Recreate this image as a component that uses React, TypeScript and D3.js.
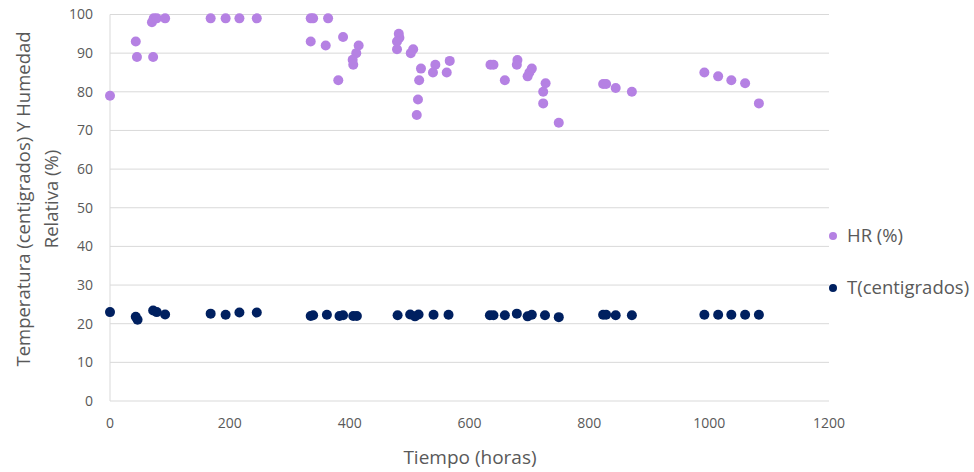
import React from "react";
import * as d3 from "d3";

const hrHours = [0, 43, 45, 72, 70, 73, 78, 92, 168, 193, 216, 245, 335, 339, 364, 335, 360, 389, 381, 415, 411, 405, 406, 482, 483, 479, 479, 506, 502, 519, 516, 514, 512, 543, 539, 567, 562, 635, 640, 659, 680, 679, 704, 700, 697, 727, 723, 723, 749, 823, 828, 844, 871, 992, 1015, 1037, 1060, 1083];
const hrValues = [79, 93, 89, 89, 98, 99, 99, 99, 99, 99, 99, 99, 99, 99, 99, 93, 92, 94.2, 83, 92, 90, 88.3, 87, 95, 94, 93, 91, 91, 90, 86, 83, 78, 74, 87, 85, 88, 85, 87, 87, 83, 88.2, 87, 86, 85, 84, 82.2, 80, 77, 72, 82, 82, 81, 80, 85, 84, 83, 82.2, 77];

const tHours = [0, 43, 46, 72, 78, 92, 168, 193, 216, 245, 335, 339, 362, 383, 389, 406, 412, 480, 501, 509, 515, 540, 565, 634, 640, 659, 679, 697, 704, 726, 749, 823, 828, 844, 871, 992, 1015, 1037, 1060, 1083];
const tValues = [23, 21.8, 21, 23.4, 23, 22.4, 22.6, 22.3, 22.9, 22.9, 22, 22.2, 22.3, 22, 22.2, 22, 22, 22.2, 22.4, 21.9, 22.4, 22.3, 22.3, 22.2, 22.2, 22.2, 22.6, 21.9, 22.3, 22.2, 21.7, 22.3, 22.3, 22.2, 22.2, 22.3, 22.3, 22.3, 22.3, 22.3];

const xTicks = [0, 200, 400, 600, 800, 1000, 1200];
const yTicks = [0, 10, 20, 30, 40, 50, 60, 70, 80, 90, 100];
const seriesNames = ["HR (%)", "T(centigrados)"];
const seriesColors = ["#B581E3", "#002060"];

export default function App() {
  const W = 974, H = 472;
  const x = d3.scaleLinear().domain([0, 1200]).range([110, 829]);
  const y = d3.scaleLinear().domain([0, 100]).range([401, 14.5]);
  const font = "'Open Sans', 'Noto Sans', sans-serif";
  const hr = hrHours.map((h, i) => [h, hrValues[i]]);
  const t = tHours.map((h, i) => [h, tValues[i]]);
  return (
    <svg width={W} height={H} style={{ position: "absolute", left: 0, top: 0 }}>
      <rect width={W} height={H} fill="#fff" />
      {yTicks.map((v) => (
        <line key={"g" + v} x1={x(0)} x2={x(1200)} y1={y(v)} y2={y(v)} stroke="#d9d9d9" strokeWidth={1} />
      ))}
      <line x1={x(0)} x2={x(0)} y1={y(100)} y2={y(0)} stroke="#d9d9d9" strokeWidth={1} />
      {yTicks.map((v) => (
        <text key={"y" + v} x={93} y={y(v)} dy="0.35em" textAnchor="end" fontSize={14} fill="#595959" fontFamily={font}>{v}</text>
      ))}
      {xTicks.map((v) => (
        <text key={"x" + v} x={x(v)} y={423} dy="0.35em" textAnchor="middle" fontSize={14} fill="#595959" fontFamily={font}>{v}</text>
      ))}
      <text x={470} y={457} dy="0.35em" textAnchor="middle" fontSize={19} fill="#595959" fontFamily={font}>Tiempo (horas)</text>
      <g transform="translate(24,199) rotate(-90)">
        <text x={0} y={0} dy="0.35em" textAnchor="middle" fontSize={18.5} fill="#595959" fontFamily={font}>Temperatura (centigrados) Y Humedad</text>
        <text x={0} y={28} dy="0.35em" textAnchor="middle" fontSize={18.5} fill="#595959" fontFamily={font}>Relativa (%)</text>
      </g>
      {hr.map((d, i) => (
        <circle key={"h" + i} cx={x(d[0])} cy={y(d[1])} r={5} fill={seriesColors[0]} />
      ))}
      {t.map((d, i) => (
        <circle key={"t" + i} cx={x(d[0])} cy={y(d[1])} r={5} fill={seriesColors[1]} />
      ))}
      {seriesNames.map((n, i) => (
        <g key={n} transform={`translate(833,${236 + i * 52})`}>
          <circle cx={0} cy={0} r={4} fill={seriesColors[i]} />
          <text x={14} y={0} dy="0.35em" fontSize={18.5} fill="#595959" fontFamily={font}>{n}</text>
        </g>
      ))}
    </svg>
  );
}
